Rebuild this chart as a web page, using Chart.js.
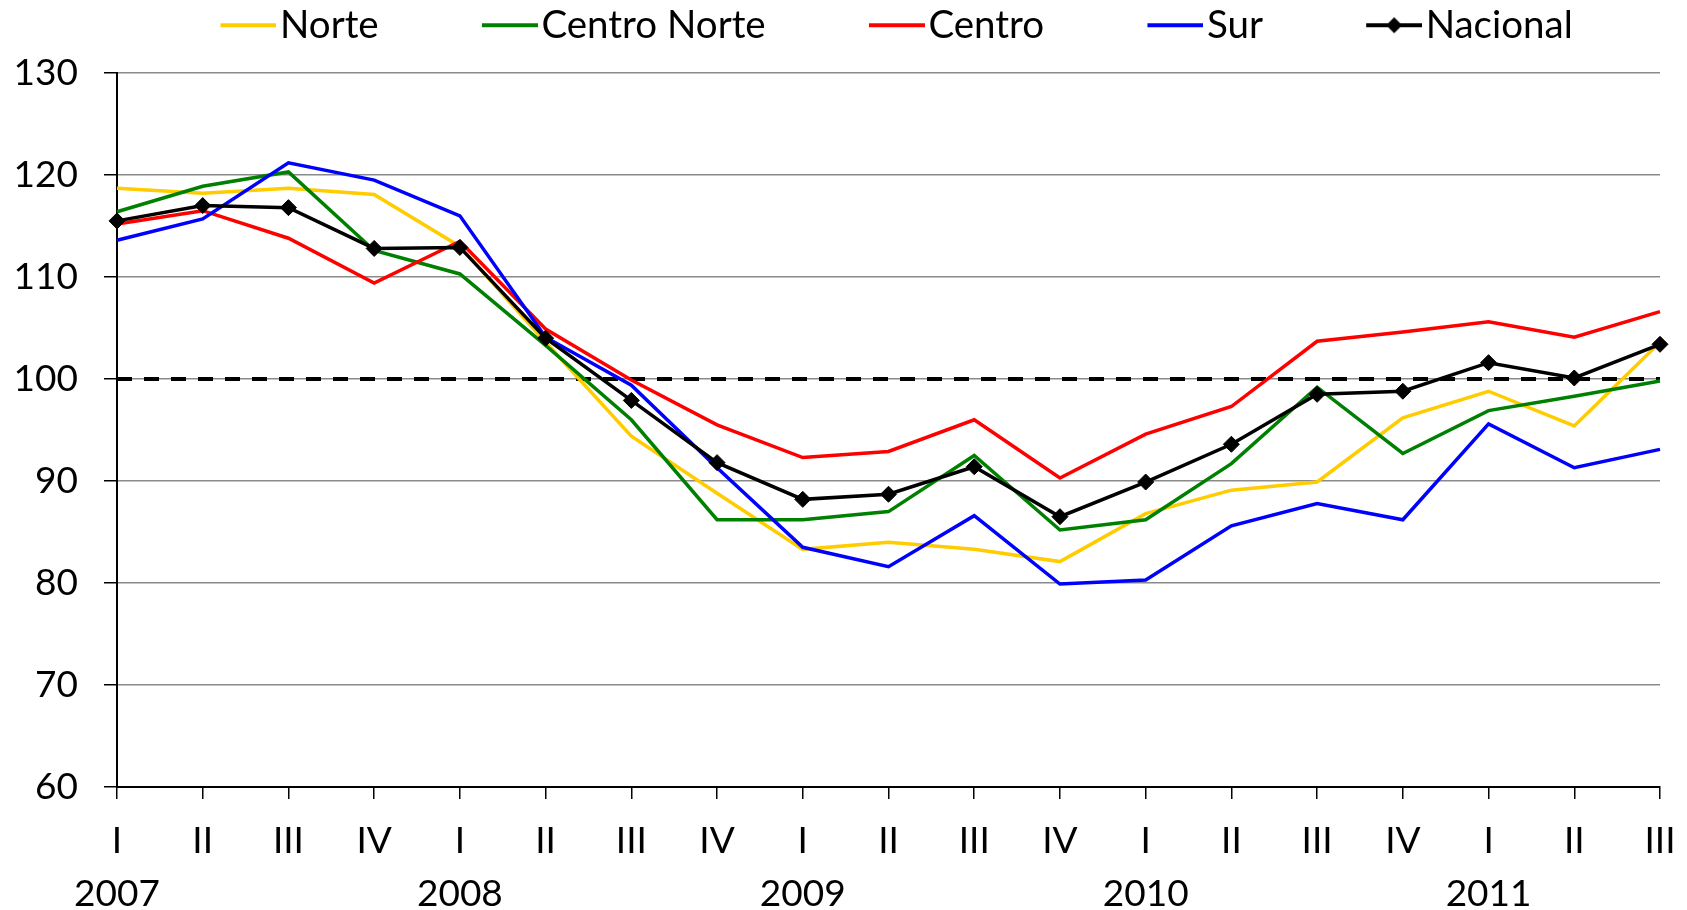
<!DOCTYPE html>
<html>
<head>
<meta charset="utf-8">
<script src="https://cdn.jsdelivr.net/npm/chart.js@4.4.1/dist/chart.umd.min.js"></script>
<style>
    html, body { margin: 0; padding: 0; background: #fff; }
    #wrap { width: 1687px; height: 910px; }
</style>
</head>
<body>
<div id="wrap"><canvas id="lineChart" width="1687" height="910"></canvas></div>
<script>
// Quarters and years on the x axis
const quarterLabels = ['I', 'II', 'III', 'IV', 'I', 'II', 'III', 'IV', 'I', 'II', 'III', 'IV', 'I', 'II', 'III', 'IV', 'I', 'II', 'III'];
const yearLabels = ['2007', '', '', '', '2008', '', '', '', '2009', '', '', '', '2010', '', '', '', '2011', '', ''];

// Series values
const norte = [118.7, 118.2, 118.7, 118.1, 113.0, 103.6, 94.4, 88.8, 83.3, 84.0, 83.3, 82.1, 86.8, 89.1, 89.9, 96.2, 98.8, 95.4, 103.6];
const centroNorte = [116.4, 118.9, 120.3, 112.6, 110.3, 103.3, 96.0, 86.2, 86.2, 87.0, 92.5, 85.2, 86.2, 91.7, 99.2, 92.7, 96.9, 98.3, 99.8];
const centro = [115.2, 116.5, 113.8, 109.4, 113.5, 104.9, 99.9, 95.5, 92.3, 92.9, 96.0, 90.3, 94.6, 97.3, 103.7, 104.6, 105.6, 104.1, 106.6];
const sur = [113.6, 115.7, 121.2, 119.5, 116.0, 104.1, 99.4, 91.3, 83.5, 81.6, 86.6, 79.9, 80.3, 85.6, 87.8, 86.2, 95.6, 91.3, 93.1];
const nacional = [115.5, 117.0, 116.8, 112.8, 112.9, 104.0, 97.9, 91.8, 88.2, 88.7, 91.4, 86.5, 89.9, 93.6, 98.5, 98.8, 101.6, 100.1, 103.4];
const base = [100, 100, 100, 100, 100, 100, 100, 100, 100, 100, 100, 100, 100, 100, 100, 100, 100, 100, 100];

// Y axis ticks
const yMin = 60;
const yMax = 130;
const yStep = 10;

Chart.defaults.font.family = 'Lato';
Chart.defaults.font.size = 37;
Chart.defaults.color = '#000';

// Legend symbol: a short line (with a diamond for Nacional), shifted so it sits next to the text
const BOX = 137.5;
function legendSymbol(color, withDiamond) {
    const c = document.createElement('canvas');
    c.width = BOX + 32;
    c.height = 20;
    const g = c.getContext('2d');
    g.strokeStyle = color;
    g.lineWidth = 4;
    g.beginPath();
    g.moveTo(BOX - 24.5, 10);
    g.lineTo(BOX + 31.5, 10);
    g.stroke();
    if (withDiamond) {
        const cx = BOX + 3.5;
        g.fillStyle = color;
        g.beginPath();
        g.moveTo(cx, 2);
        g.lineTo(cx + 8, 10);
        g.lineTo(cx, 18);
        g.lineTo(cx - 8, 10);
        g.closePath();
        g.fill();
    }
    return c;
}

const symbols = [
    legendSymbol('#FFCC00', false),
    legendSymbol('#008000', false),
    legendSymbol('#FF0000', false),
    legendSymbol('#0000FF', false),
    legendSymbol('#000000', true)
];

// Legend takes the full band above the plot, nudged a bit to the right
const legendTweak = {
    id: 'legendTweak',
    beforeInit(chart) {
        const legend = chart.legend;
        const fit = legend.fit;
        legend.fit = function () {
            fit.bind(legend)();
            this.height = 73;
        };
        const draw = legend.draw;
        legend.draw = function () {
            this.ctx.save();
            this.ctx.translate(18, 0);
            draw.apply(legend, arguments);
            this.ctx.restore();
        };
    }
};

const ctx = document.getElementById('lineChart').getContext('2d');
new Chart(ctx, {
    type: 'line',
    data: {
        labels: quarterLabels.map((q, i) => [q, yearLabels[i]]),
        datasets: [
            {label: 'Norte', data: norte, borderColor: '#FFCC00', borderWidth: 3.5, pointRadius: 0, order: 5},
            {label: 'Centro Norte', data: centroNorte, borderColor: '#008000', borderWidth: 3.5, pointRadius: 0, order: 4},
            {label: 'Centro', data: centro, borderColor: '#FF0000', borderWidth: 3.5, pointRadius: 0, order: 3},
            {label: 'Sur', data: sur, borderColor: '#0000FF', borderWidth: 3.5, pointRadius: 0, order: 2},
            {
                label: 'Nacional', data: nacional, borderColor: '#000', borderWidth: 3.5,
                pointStyle: 'rectRot', pointRadius: 8, pointBackgroundColor: '#000', pointBorderColor: '#000',
                pointBorderWidth: 1, order: 1
            },
            {label: 'base', data: base, borderColor: '#000', borderWidth: 4, borderDash: [15, 12], pointRadius: 0, order: 6}
        ]
    },
    options: {
        responsive: false,
        animation: false,
        events: [],
        layout: {padding: {left: 0, right: 27, top: 0, bottom: 0}},
        elements: {line: {tension: 0}},
        scales: {
            x: {
                afterFit: (scale) => {
                    scale.height = 123;
                    scale.paddingRight = 0;
                    scale.paddingLeft = 0;
                },
                grid: {drawOnChartArea: false, drawTicks: true, tickLength: 12, color: '#000', lineWidth: 1.5},
                border: {color: '#000', width: 2},
                ticks: {
                    autoSkip: false, maxRotation: 0, padding: 16,
                    font: {size: 37, lineHeight: 1.43}
                }
            },
            y: {
                min: yMin,
                max: yMax,
                afterFit: (scale) => { scale.width = 117; },
                grid: {color: '#8a8a8a', lineWidth: 1.5, tickLength: 13, tickColor: '#000'},
                border: {color: '#000', width: 2},
                ticks: {stepSize: yStep, padding: 26, font: {size: 37}}
            }
        },
        plugins: {
            legend: {
                position: 'top',
                labels: {
                    usePointStyle: true,
                    pointStyleWidth: BOX,
                    padding: 6,
                    font: {size: 38.5},
                    color: '#000',
                    filter: (item) => item.text !== 'base',
                    sort: (a, b) => a.datasetIndex - b.datasetIndex,
                    generateLabels: (chart) => {
                        const items = Chart.defaults.plugins.legend.labels.generateLabels(chart);
                        items.forEach(item => {
                            if (item.datasetIndex < symbols.length) {
                                item.pointStyle = symbols[item.datasetIndex];
                            }
                        });
                        return items;
                    }
                }
            },
            tooltip: {enabled: false}
        }
    },
    plugins: [legendTweak]
});
</script>
</body>
</html>
